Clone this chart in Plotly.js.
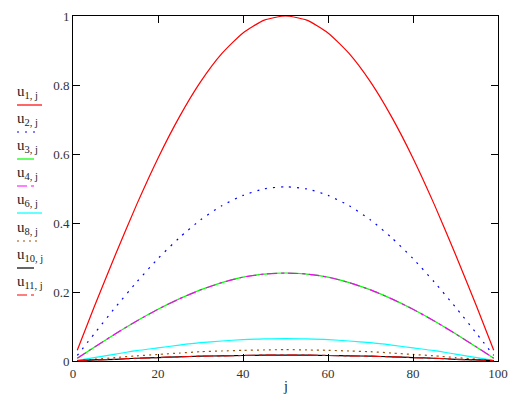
<!DOCTYPE html>
<html>
<head>
<meta charset="utf-8">
<script src="https://cdn.plot.ly/plotly-3.0.1.min.js"></script>
<style>html,body{margin:0;padding:0;background:#fff;}#chart{width:523px;height:396px;}</style>
</head>
<body>
<div id="chart"></div>
<script>
// ---- data ----
const j = [1, 5, 10, 15, 20, 25, 30, 35, 40, 45, 50, 55, 60, 65, 70, 75, 80, 85, 90, 95, 99];
const u1  = [0.031, 0.157, 0.309, 0.454, 0.588, 0.707, 0.809, 0.891, 0.951, 0.988, 1.000, 0.988, 0.951, 0.891, 0.809, 0.707, 0.588, 0.454, 0.309, 0.157, 0.031];
const u2  = [0.016, 0.079, 0.156, 0.229, 0.297, 0.357, 0.409, 0.450, 0.480, 0.499, 0.505, 0.499, 0.480, 0.450, 0.409, 0.357, 0.297, 0.229, 0.156, 0.079, 0.016];
const u3  = [0.008, 0.040, 0.079, 0.116, 0.150, 0.180, 0.206, 0.227, 0.243, 0.252, 0.255, 0.252, 0.243, 0.227, 0.206, 0.180, 0.150, 0.116, 0.079, 0.040, 0.008];
const u4  = [0.008, 0.040, 0.079, 0.116, 0.150, 0.180, 0.206, 0.227, 0.243, 0.252, 0.255, 0.252, 0.243, 0.227, 0.206, 0.180, 0.150, 0.116, 0.079, 0.040, 0.008];
const u6  = [0.002, 0.010, 0.020, 0.030, 0.038, 0.046, 0.053, 0.058, 0.062, 0.064, 0.065, 0.064, 0.062, 0.058, 0.053, 0.046, 0.038, 0.030, 0.020, 0.010, 0.002];
const u8  = [0.001, 0.005, 0.010, 0.015, 0.019, 0.023, 0.027, 0.029, 0.031, 0.032, 0.033, 0.032, 0.031, 0.029, 0.027, 0.023, 0.019, 0.015, 0.010, 0.005, 0.001];
const u10 = [0.001, 0.003, 0.005, 0.008, 0.010, 0.012, 0.014, 0.015, 0.016, 0.017, 0.017, 0.017, 0.016, 0.015, 0.014, 0.012, 0.010, 0.008, 0.005, 0.003, 0.001];
const u11 = [0.001, 0.003, 0.005, 0.008, 0.010, 0.012, 0.014, 0.015, 0.016, 0.017, 0.017, 0.017, 0.016, 0.015, 0.014, 0.012, 0.010, 0.008, 0.005, 0.003, 0.001];
const seriesLabels = ["1, j", "2, j", "3, j", "4, j", "6, j", "8, j", "10, j", "11, j"];
const xTicks = [0, 20, 40, 60, 80, 100];
const yTicks = [0, 0.2, 0.4, 0.6, 0.8, 1];
const yTickText = ["0", "0.2", "0.4", "0.6", "0.8", "1"];

// ---- styles ----
const FONT = "Liberation Serif";
const seriesData = [u1, u2, u3, u4, u6, u8, u10, u11];
const colors = ["#ff0000", "#0000ff", "#00ff00", "#ff00ff", "#00ffff", "#a05000", "#000000", "#ff0000"];
const dashes = ["solid", "2px,6px", "solid", "10px,4px,3px,4px", "solid", "2px,4px", "solid", "10px,4px,3px,4px"];
const legLen = [25, 20, 17, 17, 25, 20, 17, 17];

const W = 523, H = 396, ML = 73, MR = 25, MT = 16, MB = 35;
const PW = W - ML - MR, PH = H - MT - MB;
const px2x = p => (p - ML) / PW;
const px2y = p => (H - MB - p) / PH;

const traces = seriesData.map((v, i) => ({
  x: j, y: v, type: "scatter", mode: "lines", showlegend: false,
  line: {color: colors[i], width: 1.2, dash: dashes[i], shape: "spline", smoothing: 0.6},
  hoverinfo: "skip"
}));

const labelY = [92, 119, 146, 173, 200, 228, 255, 282];
const annotations = [], shapes = [];
seriesLabels.forEach((s, i) => {
  annotations.push({
    xref: "paper", yref: "paper", x: px2x(15), y: px2y(labelY[i]),
    xanchor: "left", yanchor: "middle", showarrow: false,
    text: "u<sub>" + s + "</sub>",
    font: {family: FONT, size: 15, color: "#222"}
  });
  const ly = px2y(labelY[i] + 13);
  shapes.push({
    type: "line", xref: "paper", yref: "paper",
    x0: px2x(17), x1: px2x(17 + legLen[i]), y0: ly, y1: ly,
    line: {color: colors[i], width: 1.2, dash: dashes[i]}
  });
});
annotations.push({
  xref: "paper", yref: "paper", x: px2x(285), y: px2y(386), xanchor: "center", yanchor: "middle",
  showarrow: false, text: "j", font: {family: FONT, size: 14, color: "#222"}
});

const axisCommon = {
  showgrid: false, zeroline: false, showline: true, linecolor: "#000", linewidth: 1,
  mirror: "ticks", ticks: "inside", ticklen: 7, tickwidth: 1, tickcolor: "#000",
  tickfont: {family: FONT, size: 13, color: "#333"}
};

const layout = {
  width: W, height: H,
  font: {family: FONT},
  margin: {l: ML, r: MR, t: MT, b: MB, pad: 0},
  paper_bgcolor: "#fff", plot_bgcolor: "#fff",
  xaxis: Object.assign({}, axisCommon, {range: [0, 100], tickvals: xTicks, ticktext: xTicks.map(String)}),
  yaxis: Object.assign({}, axisCommon, {range: [0, 1], tickvals: yTicks, ticktext: yTickText}),
  annotations: annotations, shapes: shapes, showlegend: false
};

Plotly.newPlot("chart", traces, layout, {displayModeBar: false, staticPlot: true});
</script>
</body>
</html>
